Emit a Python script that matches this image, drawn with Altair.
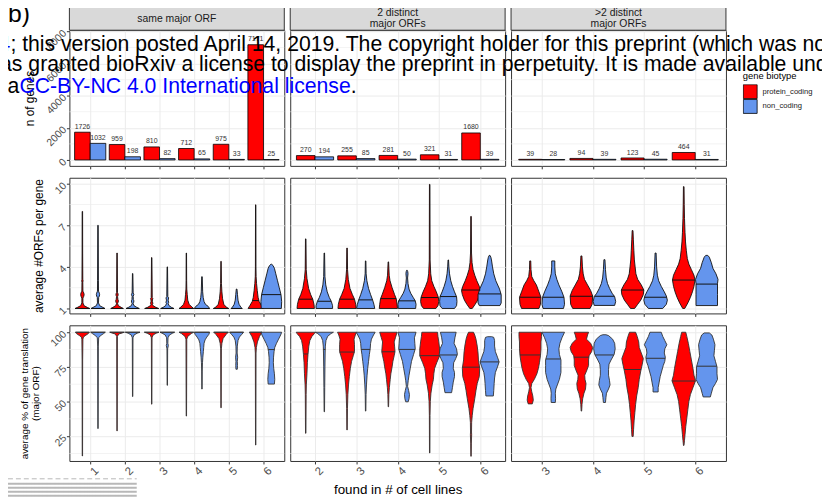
import altair as alt
import numpy as np
import pandas as pd

BIOTYPES = ["protein_coding", "non_coding"]
FILLS = ["#FF0000", "#6495ED"]
STRIPS = [["same major ORF"], ["2 distinct", "major ORFs"], [">2 distinct", "major ORFs"]]

CELL_LINES_C1 = [1, 2, 3, 4, 5, 6]
CELL_LINES_C2 = [2, 3, 4, 5, 6]
CELL_LINES_C3 = [3, 4, 5, 6]

# number of genes (top row)
GENES_PC_C1 = [1726, 959, 810, 712, 975, 7171]
GENES_NC_C1 = [1032, 198, 82, 65, 33, 25]
GENES_PC_C2 = [270, 255, 281, 321, 1680]
GENES_NC_C2 = [194, 85, 50, 31, 39]
GENES_PC_C3 = [39, 94, 123, 464]
GENES_NC_C3 = [28, 39, 45, 31]

# violin outlines: (value, half width in x units)
ORF_C1_PC = [
    [(1.0, 0.21), (1.08, 0.14), (1.2, 0.05), (1.4, 0.015), (1.75, 0.015), (1.88, 0.04), (2.0, 0.05), (2.12, 0.04), (2.25, 0.015), (2.9, 0.012), (3.0, 0.02), (3.1, 0.012), (5.0, 0.008), (8.0, 0.006)],
    [(1.0, 0.18), (1.08, 0.12), (1.2, 0.04), (1.35, 0.015), (1.45, 0.03), (1.55, 0.04), (1.65, 0.025), (1.85, 0.015), (1.95, 0.03), (2.05, 0.03), (2.15, 0.012), (5.0, 0.006)],
    [(1.0, 0.2), (1.08, 0.12), (1.2, 0.04), (1.3, 0.02), (1.38, 0.035), (1.48, 0.02), (1.62, 0.02), (1.7, 0.035), (1.78, 0.015), (4.67, 0.006)],
    [(1.0, 0.21), (1.1, 0.16), (1.3, 0.08), (1.6, 0.04), (2.0, 0.025), (2.4, 0.012), (3.0, 0.008), (5.0, 0.005)],
    [(1.0, 0.22), (1.1, 0.15), (1.3, 0.08), (1.7, 0.045), (2.2, 0.025), (2.8, 0.012), (4.4, 0.005)],
    [(1.0, 0.22), (1.2, 0.17), (1.5, 0.1), (1.8, 0.07), (2.3, 0.045), (2.8, 0.025), (3.3, 0.012), (4.0, 0.008), (8.48, 0.005)],
]
ORF_C1_NC = [
    [(1.0, 0.2), (1.08, 0.14), (1.2, 0.05), (1.4, 0.015), (1.8, 0.02), (1.9, 0.04), (2.0, 0.047), (2.1, 0.04), (2.25, 0.015), (3.0, 0.012), (7.0, 0.006)],
    [(1.0, 0.19), (1.08, 0.12), (1.2, 0.04), (1.35, 0.015), (1.45, 0.03), (1.55, 0.035), (1.65, 0.02), (1.88, 0.015), (2.0, 0.035), (2.12, 0.015), (3.52, 0.006)],
    [(1.0, 0.19), (1.08, 0.12), (1.2, 0.05), (1.35, 0.025), (1.45, 0.04), (1.55, 0.025), (1.68, 0.03), (1.76, 0.04), (1.85, 0.015), (4.0, 0.006)],
    [(1.0, 0.22), (1.15, 0.18), (1.3, 0.1), (1.5, 0.06), (1.8, 0.035), (2.2, 0.02), (3.29, 0.008)],
    [(1.0, 0.16), (1.1, 0.12), (1.3, 0.07), (1.6, 0.04), (2.0, 0.025), (2.4, 0.01)],
    [(1.0, 0.29), (1.5, 0.3), (2.0, 0.28), (2.5, 0.23), (3.0, 0.18), (3.5, 0.13), (3.9, 0.09), (4.1, 0.05), (4.19, 0.01)],
]
ORF_C2_PC = [
    [(1.0, 0.21), (1.3, 0.2), (1.67, 0.17), (2.0, 0.12), (2.45, 0.07), (3.17, 0.03), (3.8, 0.012), (6.02, 0.006)],
    [(1.0, 0.22), (1.3, 0.21), (1.67, 0.18), (2.0, 0.13), (2.45, 0.07), (3.1, 0.03), (3.8, 0.012), (5.36, 0.006)],
    [(1.0, 0.22), (1.3, 0.21), (1.7, 0.19), (2.0, 0.15), (2.5, 0.09), (3.0, 0.04), (3.4, 0.02), (4.36, 0.006)],
    [(1.0, 0.15), (1.2, 0.2), (1.5, 0.22), (1.8, 0.21), (2.2, 0.16), (2.6, 0.1), (3.0, 0.05), (3.5, 0.025), (4.5, 0.01), (9.95, 0.006)],
    [(1.0, 0.03), (1.3, 0.1), (1.6, 0.16), (2.0, 0.21), (2.3, 0.23), (2.6, 0.2), (3.0, 0.14), (3.4, 0.09), (3.8, 0.05), (4.3, 0.025), (5.0, 0.012), (7.64, 0.006)],
]
ORF_C2_NC = [
    [(1.0, 0.2), (1.2, 0.2), (1.5, 0.17), (1.8, 0.12), (2.2, 0.07), (2.7, 0.035), (3.3, 0.015), (5.0, 0.006)],
    [(1.0, 0.22), (1.3, 0.2), (1.6, 0.17), (2.0, 0.12), (2.45, 0.07), (3.0, 0.03), (3.5, 0.012), (4.43, 0.006)],
    [(1.0, 0.21), (1.3, 0.22), (1.55, 0.2), (1.8, 0.15), (2.1, 0.09), (2.4, 0.05), (2.8, 0.025), (3.2, 0.015), (3.5, 0.025), (3.65, 0.02), (3.76, 0.005)],
    [(1.0, 0.15), (1.2, 0.2), (1.5, 0.21), (1.85, 0.2), (2.2, 0.15), (2.6, 0.1), (3.0, 0.06), (3.5, 0.03), (4.0, 0.015), (4.5, 0.006)],
    [(1.21, 0.25), (1.4, 0.28), (2.0, 0.28), (2.4, 0.24), (3.0, 0.15), (3.5, 0.1), (4.0, 0.07), (4.5, 0.045), (4.7, 0.03), (4.83, 0.01)],
]
ORF_C3_PC = [
    [(1.0, 0.17), (1.3, 0.2), (1.8, 0.21), (2.2, 0.17), (2.7, 0.12), (3.0, 0.07), (3.3, 0.03), (3.8, 0.015), (4.43, 0.01)],
    [(1.0, 0.17), (1.3, 0.21), (1.9, 0.22), (2.3, 0.18), (2.7, 0.12), (3.1, 0.06), (3.5, 0.035), (4.0, 0.02), (4.79, 0.01)],
    [(1.0, 0.04), (1.3, 0.1), (1.6, 0.16), (2.0, 0.21), (2.33, 0.22), (2.7, 0.17), (3.1, 0.1), (3.5, 0.065), (4.0, 0.05), (4.5, 0.035), (5.2, 0.025), (6.0, 0.015), (6.62, 0.008)],
    [(1.0, 0.02), (1.4, 0.08), (1.8, 0.13), (2.2, 0.17), (2.6, 0.2), (3.05, 0.22), (3.4, 0.2), (3.8, 0.15), (4.2, 0.1), (4.6, 0.07), (5.2, 0.05), (5.8, 0.035), (6.5, 0.025), (7.5, 0.015), (8.5, 0.01), (9.79, 0.006)],
]
ORF_C3_NC = [
    [(1.0, 0.2), (1.3, 0.22), (1.8, 0.21), (2.2, 0.17), (2.7, 0.11), (3.1, 0.07), (3.5, 0.04), (4.0, 0.03), (4.43, 0.03)],
    [(1.22, 0.2), (1.5, 0.22), (1.85, 0.2), (2.1, 0.15), (2.45, 0.1), (2.8, 0.06), (3.2, 0.035), (3.8, 0.02), (4.52, 0.01)],
    [(1.0, 0.14), (1.3, 0.21), (1.6, 0.23), (1.9, 0.21), (2.2, 0.17), (2.6, 0.11), (3.0, 0.06), (3.4, 0.035), (4.0, 0.02), (5.0, 0.01)],
    [(1.21, 0.21), (2.0, 0.21), (2.8, 0.21), (3.1, 0.22), (3.5, 0.18), (3.9, 0.12), (4.3, 0.09), (4.7, 0.05), (4.83, 0.02)],
]
ORF_MED_C1_PC = [1.0, 1.0, 1.0, 1.0, 1.0, 1.57]
ORF_MED_C1_NC = [1.0, 1.0, 1.0, 1.0, 1.0, 2.0]
ORF_MED_C2_PC = [1.67, 1.67, 1.71, 1.79, 2.33]
ORF_MED_C2_NC = [1.52, 1.62, 1.55, 1.86, 2.05]
ORF_MED_C3_PC = [1.81, 1.88, 2.33, 3.05]
ORF_MED_C3_NC = [1.81, 1.88, 1.81, 2.76]

PCT_C1_PC = [
    [(10.7, 0.005), (80, 0.008), (95, 0.015), (96.5, 0.03), (97.5, 0.08), (99, 0.17), (100, 0.2)],
    [(28.8, 0.005), (97, 0.01), (98.7, 0.05), (99.5, 0.15), (100, 0.21)],
    [(48.1, 0.005), (96, 0.01), (98, 0.04), (99.3, 0.13), (100, 0.21)],
    [(39.5, 0.005), (95, 0.012), (97, 0.04), (99, 0.14), (100, 0.21)],
    [(45.5, 0.005), (88, 0.01), (92, 0.025), (95.5, 0.06), (98.5, 0.15), (100, 0.21)],
    [(18.6, 0.005), (85, 0.01), (89, 0.02), (93, 0.05), (97, 0.11), (100, 0.18)],
]
PCT_C1_NC = [
    [(30.5, 0.005), (90, 0.01), (96, 0.02), (97.5, 0.07), (99, 0.16), (100, 0.21)],
    [(53.6, 0.005), (96, 0.01), (98, 0.04), (99.3, 0.13), (100, 0.21)],
    [(61.7, 0.005), (88, 0.01), (90.5, 0.03), (92, 0.015), (96, 0.02), (98, 0.06), (99.3, 0.15), (100, 0.21)],
    [(59, 0.005), (72, 0.008), (78, 0.015), (82, 0.025), (86, 0.04), (89, 0.05), (92, 0.06), (94.5, 0.09), (96.5, 0.14), (98.5, 0.2), (100, 0.22)],
    [(73.3, 0.02), (76, 0.025), (79, 0.02), (82, 0.03), (85, 0.015), (90, 0.02), (94, 0.04), (96.5, 0.08), (98.5, 0.15), (100, 0.2)],
    [(62.6, 0.09), (66, 0.1), (70, 0.09), (74, 0.07), (78, 0.06), (82, 0.065), (86, 0.08), (89, 0.1), (92, 0.15), (95, 0.21), (98, 0.27), (100, 0.3)],
]
PCT_C2_PC = [
    [(27.1, 0.005), (55, 0.01), (62, 0.015), (70, 0.03), (78, 0.04), (84, 0.055), (90, 0.075), (94, 0.1), (97, 0.15), (99, 0.21), (100, 0.23)],
    [(29.5, 0.005), (45, 0.01), (55, 0.02), (62, 0.035), (68, 0.055), (74, 0.08), (79, 0.11), (83, 0.15), (86, 0.18), (91, 0.18), (95, 0.17), (98, 0.2), (100, 0.23)],
    [(46.2, 0.005), (55, 0.012), (60, 0.024), (66, 0.045), (70, 0.06), (75, 0.09), (79, 0.11), (83, 0.14), (86, 0.16), (90, 0.15), (93, 0.14), (96, 0.17), (100, 0.21)],
    [(12.9, 0.005), (40, 0.008), (50, 0.015), (56, 0.03), (62, 0.06), (66, 0.09), (70, 0.1), (74, 0.12), (78, 0.17), (83, 0.24), (88, 0.24), (93, 0.22), (97, 0.2), (100, 0.19)],
    [(10.5, 0.005), (20, 0.008), (26, 0.015), (28, 0.012), (35, 0.015), (40, 0.03), (45, 0.05), (52, 0.09), (58, 0.12), (63, 0.15), (68, 0.2), (74, 0.21), (80, 0.18), (85, 0.17), (90, 0.15), (95, 0.12), (98, 0.09), (100, 0.06)],
]
PCT_C2_NC = [
    [(42.6, 0.005), (60, 0.01), (75, 0.015), (85, 0.02), (90, 0.025), (94, 0.04), (97, 0.08), (99, 0.16), (100, 0.22)],
    [(43.1, 0.005), (55, 0.01), (62, 0.02), (69, 0.035), (74, 0.05), (79, 0.07), (84, 0.09), (88, 0.11), (92, 0.12), (95, 0.14), (98, 0.19), (100, 0.23)],
    [(49.8, 0.03), (52, 0.05), (55, 0.06), (58, 0.04), (61, 0.015), (65, 0.03), (69, 0.05), (74, 0.08), (79, 0.11), (84, 0.16), (88, 0.2), (92, 0.19), (96, 0.18), (100, 0.22)],
    [(56.4, 0.08), (60, 0.1), (64, 0.12), (68, 0.15), (71, 0.15), (74, 0.12), (78, 0.13), (81, 0.18), (84, 0.22), (88, 0.2), (92, 0.14), (96, 0.16), (100, 0.19)],
    [(54, 0.09), (58, 0.1), (63, 0.11), (67, 0.12), (71, 0.14), (75, 0.19), (78.6, 0.23), (82, 0.19), (86, 0.14), (90, 0.12), (94, 0.12), (96.3, 0.1), (96.8, 0.05)],
]
PCT_C3_PC = [
    [(48.3, 0.04), (51, 0.06), (54, 0.05), (57, 0.03), (60, 0.015), (63, 0.03), (66, 0.08), (70, 0.13), (74, 0.16), (78, 0.18), (83, 0.2), (88, 0.21), (93, 0.21), (97, 0.22), (100, 0.22)],
    [(43.1, 0.005), (48, 0.012), (52, 0.025), (56, 0.05), (59, 0.08), (63, 0.09), (66, 0.07), (69, 0.065), (72, 0.1), (76, 0.14), (80, 0.14), (83, 0.15), (86, 0.2), (89, 0.22), (92, 0.18), (95, 0.1), (98, 0.12), (100, 0.14)],
    [(24.8, 0.012), (30, 0.02), (36, 0.03), (42, 0.045), (48, 0.06), (54, 0.08), (60, 0.11), (66, 0.13), (72, 0.16), (77, 0.19), (81, 0.21), (85, 0.17), (89, 0.13), (93, 0.12), (97, 0.09), (100, 0.06)],
    [(18.3, 0.005), (22, 0.015), (26, 0.025), (32, 0.04), (38, 0.06), (44, 0.08), (50, 0.1), (55, 0.13), (60, 0.18), (65, 0.23), (69, 0.2), (74, 0.18), (80, 0.15), (86, 0.12), (92, 0.09), (97, 0.06), (100, 0.04)],
]
PCT_C3_NC = [
    [(49.3, 0.04), (52, 0.045), (56, 0.04), (59, 0.05), (62, 0.08), (66, 0.12), (71, 0.15), (76, 0.15), (80, 0.15), (84, 0.12), (88, 0.11), (92, 0.13), (96, 0.17), (100, 0.22)],
    [(49.3, 0.02), (53, 0.03), (56, 0.04), (59, 0.08), (62, 0.11), (65, 0.1), (69, 0.08), (73, 0.08), (77, 0.09), (80, 0.13), (84, 0.19), (88, 0.21), (92, 0.2), (95, 0.16), (97.6, 0.08), (98.2, 0.03)],
    [(56.9, 0.05), (60, 0.05), (64, 0.07), (68, 0.09), (72, 0.12), (76, 0.15), (79, 0.18), (82, 0.19), (85, 0.17), (88, 0.18), (91, 0.22), (94, 0.18), (97, 0.14), (100, 0.11)],
    [(53.3, 0.07), (56, 0.09), (60, 0.12), (63, 0.17), (66, 0.21), (70, 0.2), (75, 0.2), (79, 0.17), (83, 0.14), (87, 0.15), (91, 0.16), (95, 0.13), (98, 0.1), (99.5, 0.05)],
]
PCT_MED_C1_PC = [100, 100, 100, 100, 100, 100]
PCT_MED_C1_NC = [100, 100, 100, 100, 100, 87.5]
PCT_MED_C2_PC = [84.3, 85.7, 85.9, 83.1, 74.8]
PCT_MED_C2_NC = [87.6, 87.6, 87.6, 83.6, 78.6]
PCT_MED_C3_PC = [83.6, 82.0, 73.1, 64.8]
PCT_MED_C3_NC = [80.7, 83.6, 81.2, 75.5]

Y_TICKS = [[0, 2000, 4000, 6000, 8000], [1, 4, 7, 10], [25, 50, 75, 100]]
Y_MINOR = [[1000, 3000, 5000, 7000], [2.5, 5.5, 8.5], [12.5, 37.5, 62.5, 87.5]]
Y_DOMAINS = [[-369, 8075], [0.643, 10.43], [7.1, 105.0]]
Y_TITLES = ["n of genes", "average #ORFs per gene", ["average % of gene translation", "(major ORF)"]]
X_TITLE = "found in # of cell lines"

CELL_LINES = [CELL_LINES_C1, CELL_LINES_C2, CELL_LINES_C3]
GENES = [(GENES_PC_C1, GENES_NC_C1), (GENES_PC_C2, GENES_NC_C2), (GENES_PC_C3, GENES_NC_C3)]
VIOLINS = {
    1: [(ORF_C1_PC, ORF_C1_NC), (ORF_C2_PC, ORF_C2_NC), (ORF_C3_PC, ORF_C3_NC)],
    2: [(PCT_C1_PC, PCT_C1_NC), (PCT_C2_PC, PCT_C2_NC), (PCT_C3_PC, PCT_C3_NC)],
}
MEDIANS = {
    1: [(ORF_MED_C1_PC, ORF_MED_C1_NC), (ORF_MED_C2_PC, ORF_MED_C2_NC), (ORF_MED_C3_PC, ORF_MED_C3_NC)],
    2: [(PCT_MED_C1_PC, PCT_MED_C1_NC), (PCT_MED_C2_PC, PCT_MED_C2_NC), (PCT_MED_C3_PC, PCT_MED_C3_NC)],
}

W, H = 217, 137
GRID = "#EBEBEB"
DARK = "#333333"
LABEL = "#4D4D4D"
FONT = "Liberation Sans"
DODGE = 0.225
BAR_W = 0.45

CSCALE = alt.Scale(domain=BIOTYPES, range=FILLS)


def bar_frames(c):
    rows = []
    for b, counts in enumerate(GENES[c]):
        for k, n in zip(CELL_LINES[c], counts):
            x0 = k - BAR_W if b == 0 else k
            rows.append(dict(bt=BIOTYPES[b], x=x0, x2=x0 + BAR_W, xc=x0 + BAR_W / 2,
                             y=n, y2=0, label=str(n)))
    return pd.DataFrame(rows)


def violin_frames(r, c):
    rows, mrows = [], []
    for b in range(2):
        knots_list = VIOLINS[r][c][b]
        meds = MEDIANS[r][c][b]
        sign = -1 if b == 0 else 1
        for k, knots, med in zip(CELL_LINES[c], knots_list, meds):
            cx = k + sign * DODGE
            ys = [p[0] for p in knots]
            ws = [p[1] for p in knots]
            for y, w in knots:
                rows.append(dict(vid=f"{b}-{k}", bt=BIOTYPES[b], y=y, x=cx - w, x2=cx + w))
            wm = float(np.interp(med, ys, ws))
            mrows.append(dict(bt=BIOTYPES[b], y=med, x=cx - wm, x2=cx + wm))
    return pd.DataFrame(rows), pd.DataFrame(mrows)


def panel(r, c):
    ks = CELL_LINES[c]
    xsc = alt.Scale(domain=[ks[0] - 0.6, ks[-1] + 0.6], nice=False, zero=False)
    ysc = alt.Scale(domain=Y_DOMAINS[r], nice=False, zero=False)

    xax = dict(values=ks, grid=True, gridColor=GRID, gridWidth=1, domain=False,
               ticks=True, tickColor=DARK, tickSize=3, tickWidth=1, labels=(r == 2), title="")
    if r == 2:
        xax.update(labelAngle=315, labelAlign="center", labelBaseline="top", labelFontSize=11.5,
                   labelColor=LABEL, labelPadding=3, format="d", labelFont=FONT)
    if r == 2 and c == 1:
        xax.update(title=X_TITLE, titleFontSize=13.5, titleFontWeight="normal", titleColor="black",
                   titleX=W / 2, titleY=33, titleBaseline="alphabetic", titleAlign="center", titleFont=FONT)

    yax = dict(values=Y_TICKS[r], grid=True, gridColor=GRID, gridWidth=1, domain=False, title="")
    if c == 0:
        yax.update(labels=True, labelAngle=315, labelAlign="right", labelBaseline="middle",
                   labelFontSize=10.5, labelColor=LABEL, labelPadding=2, format="d", labelOverlap=False,
                   labelFont=FONT, ticks=True, tickColor=DARK, tickSize=3, tickWidth=1,
                   title=Y_TITLES[r], titleAngle=270, titleBaseline="middle", titleAlign="center",
                   titleX=(-31 if r == 1 else (-45 if r == 2 else -40)), titleY=H / 2,
                   titleFontSize=(10 if r == 2 else 12), titleLineHeight=10.5,
                   titleFontWeight="normal", titleColor="black", titleFont=FONT)
    else:
        yax.update(labels=False, ticks=False)

    X = alt.X("x:Q", scale=xsc, axis=alt.Axis(**xax))
    Y = alt.Y("y:Q", scale=ysc, axis=alt.Axis(**yax))

    minor = alt.Chart(pd.DataFrame({"y": Y_MINOR[r]})).mark_rule(
        color=GRID, strokeWidth=0.6).encode(y=Y)
    layers = [minor]

    if r == 0:
        bars = bar_frames(c)
        if c == 2:
            legend = alt.Legend(title="gene biotype", orient="none", legendX=234, legendY=41,
                                direction="vertical", symbolType="square", symbolSize=196,
                                symbolStrokeColor="black", symbolStrokeWidth=0.8,
                                titleFontSize=9.5, titleFontWeight="normal", titleColor="black",
                                titleFont=FONT, labelFont=FONT, labelFontSize=7.7,
                                labelColor="#1A1A1A", labelOffset=5, rowPadding=0, titlePadding=4,
                                clipHeight=15, padding=0)
            color = alt.Color("bt:N", scale=CSCALE, legend=legend)
        else:
            color = alt.Color("bt:N", scale=CSCALE, legend=None)
        layers.append(alt.Chart(bars).mark_bar(stroke="black", strokeWidth=0.8).encode(
            x=X, x2="x2:Q", y=Y, y2="y2:Q", color=color))
        labels = bars[["xc", "y", "label"]].rename(columns={"xc": "x"})
        layers.append(alt.Chart(labels).mark_text(
            fontSize=7, color=DARK, baseline="alphabetic", dy=-3.5, font=FONT).encode(
            x=X, y=Y, text="label:N"))
    else:
        vdf, mdf = violin_frames(r, c)
        stroke = "#111111" if r == 1 else DARK
        layers.append(alt.Chart(vdf).mark_area(
            orient="horizontal", stroke=stroke, strokeWidth=0.9, opacity=1).encode(
            y=Y, x=X, x2="x2:Q", detail="vid:N",
            color=alt.Color("bt:N", scale=CSCALE, legend=None)))
        layers.append(alt.Chart(mdf).mark_rule(color=stroke, strokeWidth=1).encode(
            y=Y, x=X, x2="x2:Q"))

    one = pd.DataFrame({"a": [0]})
    if r == 0:
        layers.append(alt.Chart(one).mark_rect(fill="#D9D9D9", stroke=DARK, strokeWidth=1).encode(
            x=alt.value(0), x2=alt.value(W), y=alt.value(-24), y2=alt.value(0)))
        first_line = -11.5 if len(STRIPS[c]) == 1 else -17.3
        layers.append(alt.Chart(one).mark_text(
            text=STRIPS[c], fontSize=10.5, color="#1A1A1A", lineHeight=11, baseline="middle",
            align="center", font=FONT).encode(x=alt.value(W / 2), y=alt.value(first_line)))
    if r == 0 and c == 0:
        layers.append(alt.Chart(one).mark_text(
            text="b)", fontSize=25, color="black", baseline="alphabetic", align="left",
            font=FONT).encode(x=alt.value(-62), y=alt.value(-8)))
    if r == 2 and c == 0:
        # faint banded artefact at the bottom-left corner of the page
        strip_rows = [(155, 1, [5, 3]), (160, 2, [1, 0]), (164, 2, [1, 0]), (168, 2, [1, 0]), (172, 2, [1, 0])]
        for yy, sw, dash in strip_rows:
            layers.append(alt.Chart(one).mark_rule(
                color="#B8B8B8", strokeWidth=sw, strokeDash=dash).encode(
                x=alt.value(-70), x2=alt.value(68), y=alt.value(yy)))
    if r == 0 and c == 2:
        ox, oy = 516, 28
        fs = 21.4
        marks = [
            ("4", -1.5, 49, "#0000FF"),
            ("; this version posted April 14, 2019. The copyright holder for this preprint (which was not",
             10.4, 49, "black"),
            ("as granted bioRxiv a license to display the preprint in perpetuity. It is made available under",
             0, 69.5, "black"),
            ("a", 7.5, 91, "black"),
            ("CC-BY-NC 4.0 International license", 19.5, 91, "#0000FF"),
            (".", 354, 91, "black"),
        ]
        for txt, px, py, col in marks:
            layers.append(alt.Chart(one).mark_text(
                text=txt, fontSize=fs, color=col, baseline="alphabetic", align="left",
                font=FONT).encode(x=alt.value(px - ox), y=alt.value(py - oy)))

    return alt.layer(*layers).properties(width=W, height=H)


panels = [panel(r, c) for r in range(3) for c in range(3)]

chart = alt.concat(*panels, columns=3, spacing={"row": 12, "column": 6}, bounds="flush").resolve_legend(
    color="independent").properties(
    autosize=alt.AutoSizeParams(type="none"),
    padding={"left": 62, "top": 20, "right": 760, "bottom": 474},
).configure(font=FONT).configure_view(stroke=DARK, strokeWidth=1)

chart.save("out.html", embed_options={"renderer": "svg", "actions": False})
